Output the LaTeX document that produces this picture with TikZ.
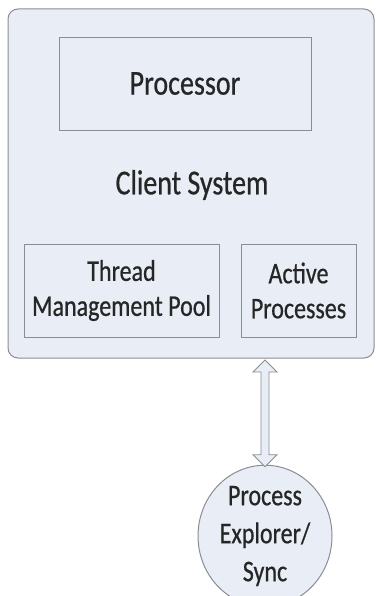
\documentclass[tikz,border=0pt]{standalone}
\usepackage{fontspec}
\setmainfont{Carlito}
\newfontfamily\condfont[FakeStretch=0.8,FakeBold=0.6]{Carlito}
\usetikzlibrary{calc,shapes.geometric}
\definecolor{boxfill}{HTML}{E8EDF6}
\definecolor{boxline}{HTML}{8A8D93}
\definecolor{txt}{HTML}{262626}
\tikzset{
  outerbox/.style={draw=boxline, fill=boxfill, rounded corners=10pt, line width=1pt},
  innerbox/.style={draw=boxline, fill=boxfill, line width=0.9pt},
  bigtext/.style={font=\condfont\fontsize{35}{36}\selectfont, text=txt},
  smalltext/.style={font=\condfont\fontsize{30}{35}\selectfont, text=txt, align=center},
  ellnode/.style={draw=boxline, fill=boxfill, line width=1pt, ellipse, minimum width=134pt, minimum height=126pt, inner sep=0pt},
  arrowshape/.style={draw=boxline, fill=boxfill, line width=0.9pt, line join=miter}
}
\begin{document}
\begin{tikzpicture}[x=1pt,y=-1pt]
\useasboundingbox (0,0) rectangle (375,596);
\draw[outerbox] (8,9) rectangle (374,358);
\coordinate (cs) at (191,358);
\node[innerbox, minimum width=252pt, minimum height=93pt, inner sep=0pt] (proc) at (185,83.5) {};
\node[bigtext] at (proc.center) {Processor};
\node[bigtext] (client) at (192,185) {Client System};
\node[innerbox, minimum width=195pt, minimum height=93pt, inner sep=0pt] (thread) at (121.5,290.5) {};
\node[smalltext] at (thread.center) {Thread\\Management Pool};
\node[innerbox, minimum width=115pt, minimum height=93pt, inner sep=0pt] (active) at (298.5,290.5) {};
\node[smalltext] at (active.center) {Active\\Processes};
\node[ellnode, font=\condfont\fontsize{30}{38}\selectfont, text=txt, align=center] (el) at (265,536) {Process\\Explorer/\\Sync};
\coordinate (T) at ($(el.north |- cs)+(0,2)$);
\coordinate (B) at ($(el.north)+(0,2)$);
\draw[arrowshape] (T) -- ++(12,12) -- ++(-8,0) -- ($(B)+(4,-12)$) -- ++(8,0) -- (B)
  -- ++(-12,-12) -- ++(8,0) -- ($(T)+(-4,12)$) -- ++(-8,0) -- cycle;
\end{tikzpicture}
\end{document}
